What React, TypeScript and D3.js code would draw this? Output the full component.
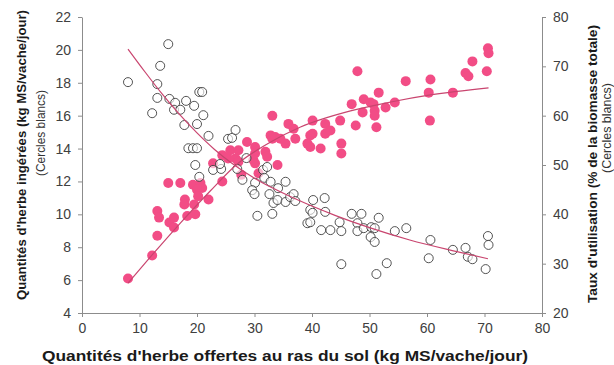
import React, { useRef, useEffect } from "react";
import * as d3 from "d3";

// cercles blancs : axe de droite (taux d'utilisation, %)
const hollowX = [8.0, 15.0, 13.6, 13.1, 13.1, 15.2, 16.2, 12.2, 16.0, 17.1,
  18.1, 19.5, 20.4, 20.9, 21.1, 17.8, 20.0, 22.0, 25.4, 26.1,
  26.7, 18.5, 19.3, 20.0, 19.7, 20.4, 22.8, 24.2, 24.0, 27.0,
  28.6, 27.9, 30.1, 29.6, 30.0, 31.5, 32.2, 31.7, 30.5, 32.8,
  34.1, 35.4, 32.6, 33.3, 34.0, 35.4, 36.2, 36.8, 37.1, 33.1,
  40.2, 42.2, 39.7, 40.1, 42.3, 39.2, 39.7, 41.6, 43.2, 44.8,
  45.1, 46.9, 48.6, 47.9, 47.9, 49.0, 50.3, 50.9, 51.6, 50.2,
  50.9, 54.4, 56.4, 45.1, 53.0, 51.2, 60.6, 60.3, 64.5, 66.7,
  67.1, 67.9, 70.6, 70.7, 70.2];
const hollowY = [66.8, 74.5, 70.1, 66.4, 63.6, 63.4, 62.6, 60.5, 61.2, 61.2,
  63.0, 62.0, 64.8, 64.8, 60.1, 58.1, 58.3, 55.9, 55.3, 55.5,
  57.1, 53.4, 53.4, 53.4, 50.0, 47.6, 49.0, 49.2, 50.2, 49.2,
  51.4, 47.0, 46.4, 44.9, 44.1, 49.0, 49.6, 47.4, 39.7, 46.6,
  45.3, 46.6, 44.1, 42.3, 42.9, 42.5, 43.5, 44.1, 42.7, 40.1,
  42.9, 43.3, 40.9, 40.3, 40.5, 38.2, 38.4, 36.8, 36.8, 38.4,
  36.6, 40.1, 40.1, 38.2, 36.6, 37.2, 37.4, 37.2, 39.3, 35.4,
  34.4, 36.6, 37.2, 29.9, 30.1, 27.9, 34.8, 31.1, 32.8, 33.2,
  31.4, 30.9, 35.6, 33.8, 28.9];

// points roses : axe de gauche (kg MS/vache/jour)
const pinkX = [8.0, 12.2, 13.1, 13.1, 13.4, 15.0, 17.1, 15.2, 16.0, 16.0,
  17.9, 17.8, 18.3, 19.7, 19.5, 19.3, 20.6, 20.9, 20.0, 20.2,
  22.0, 24.4, 22.8, 24.4, 25.4, 25.8, 27.2, 26.7, 27.2, 28.7,
  30.1, 27.7, 30.1, 31.9, 32.2, 29.8, 30.1, 30.7, 34.0, 32.8,
  33.1, 33.6, 34.5, 35.4, 33.1, 35.9, 36.8, 37.1, 40.1, 42.3,
  44.9, 47.6, 46.9, 40.1, 39.7, 42.3, 43.2, 39.2, 39.7, 41.5,
  45.1, 45.1, 56.3, 51.6, 49.0, 50.2, 50.7, 54.4, 52.8, 48.8,
  50.9, 50.9, 51.2, 70.6, 70.7, 67.9, 66.7, 67.2, 70.4, 60.6,
  60.3, 64.5, 60.5, 47.9];
const pinkY = [6.1, 7.5, 8.7, 10.2, 9.8, 11.9, 11.9, 9.5, 9.8, 9.2,
  10.9, 10.6, 9.9, 10.0, 10.6, 11.8, 11.9, 11.6, 11.5, 11.1,
  10.9, 12.0, 13.1, 13.6, 13.4, 13.9, 13.9, 13.4, 13.2, 14.4,
  14.1, 12.4, 13.7, 13.8, 13.5, 13.3, 13.1, 12.5, 13.0, 14.8,
  14.6, 14.7, 14.6, 14.3, 16.0, 15.5, 15.2, 14.6, 15.7, 15.5,
  15.7, 15.4, 16.7, 14.9, 14.8, 14.9, 15.1, 14.3, 14.1, 14.0,
  14.3, 13.7, 18.1, 17.4, 17.0, 16.8, 16.7, 16.8, 16.5, 16.2,
  16.3, 16.0, 15.3, 20.1, 19.8, 19.3, 18.6, 18.4, 18.7, 18.2,
  17.4, 17.4, 15.7, 18.7];

// courbes d'ajustement
const pinkFitX = [8.0, 12.2, 17.1, 22.3, 27.0, 31.9, 38.0, 46.7, 53.7, 60.6, 70.7];
const pinkFitY = [5.82, 7.53, 9.47, 11.42, 13.06, 14.22, 15.31, 16.29, 16.83, 17.26, 17.69];
const hollowFitX = [8, 11, 14, 17, 20, 23, 26, 30, 37, 44, 50, 57, 65, 70.6];
const hollowFitY = [73.5, 68.8, 64.3, 60.2, 56.5, 53.2, 50.4, 47.3, 43.2, 39.8, 37.3, 34.8, 32.5, 31.0];

const xTicks = [0, 10, 20, 30, 40, 50, 60, 70, 80];
const leftTicks = [4, 6, 8, 10, 12, 14, 16, 18, 20, 22];
const rightTicks = [20, 30, 40, 50, 60, 70, 80];

const PINK = "#f24d86";
const FIT = "#c9456f";
const FONT = "'Liberation Sans', Arial, sans-serif";

const App = () => {
  const ref = useRef<SVGSVGElement | null>(null);

  useEffect(() => {
    if (!ref.current) return;
    const svg = d3.select(ref.current);
    svg.selectAll("*").remove();

    const left = 82, right = 542, top = 17, bottom = 313;
    const x = d3.scaleLinear().domain([0, 80]).range([left, right]);
    const yL = d3.scaleLinear().domain([4, 22]).range([bottom, top]);
    const yR = d3.scaleLinear().domain([20, 80]).range([bottom, top]);

    const styleAxis = (g: any) => {
      g.select(".domain").attr("stroke", "#8c8c8c");
      g.selectAll(".tick line").attr("stroke", "#8c8c8c");
      g.selectAll(".tick text")
        .attr("fill", "#404040")
        .attr("font-family", FONT)
        .attr("font-size", 14);
    };

    svg.append("g")
      .attr("transform", `translate(0,${bottom})`)
      .call(d3.axisBottom(x).tickValues(xTicks).tickSize(4).tickSizeOuter(0).tickPadding(6))
      .call(styleAxis);

    svg.append("g")
      .attr("transform", `translate(${left},0)`)
      .call(d3.axisLeft(yL).tickValues(leftTicks).tickSize(4).tickSizeOuter(0).tickPadding(7))
      .call(styleAxis);

    svg.append("g")
      .attr("transform", `translate(${right},0)`)
      .call(d3.axisRight(yR).tickValues(rightTicks).tickSize(4).tickSizeOuter(0).tickPadding(7))
      .call(styleAxis);

    // points roses
    svg.append("g")
      .selectAll("circle")
      .data(pinkX)
      .join("circle")
      .attr("cx", (d) => x(d))
      .attr("cy", (_d, i) => yL(pinkY[i]))
      .attr("r", 5)
      .attr("fill", PINK);

    // cercles blancs
    svg.append("g")
      .selectAll("circle")
      .data(hollowX)
      .join("circle")
      .attr("cx", (d) => x(d))
      .attr("cy", (_d, i) => yR(hollowY[i]))
      .attr("r", 4.5)
      .attr("fill", "white")
      .attr("fill-opacity", 0.6)
      .attr("stroke", "#404040")
      .attr("stroke-width", 0.9);

    const pinkLine = d3.line<number>()
      .x((d) => x(d))
      .y((_d, i) => yL(pinkFitY[i]))
      .curve(d3.curveMonotoneX);

    const hollowLine = d3.line<number>()
      .x((d) => x(d))
      .y((_d, i) => yR(hollowFitY[i]))
      .curve(d3.curveMonotoneX);

    svg.append("path")
      .datum(pinkFitX)
      .attr("d", pinkLine)
      .attr("fill", "none")
      .attr("stroke", FIT)
      .attr("stroke-width", 1.2);

    svg.append("path")
      .datum(hollowFitX)
      .attr("d", hollowLine)
      .attr("fill", "none")
      .attr("stroke", FIT)
      .attr("stroke-width", 1.2);

    // titres
    const title = (tx: number, ty: number, text: string, bold: boolean, size: number, rot: boolean, len?: number) => {
      const t = svg.append("text")
        .attr("transform", rot ? `translate(${tx},${ty}) rotate(-90)` : `translate(${tx},${ty})`)
        .attr("text-anchor", "middle")
        .attr("dy", "0.35em")
        .attr("font-family", FONT)
        .attr("font-weight", bold ? "bold" : "normal")
        .attr("font-size", size)
        .attr("fill", bold ? "#1a1a1a" : "#333")
        .text(text);
      if (len) t.attr("textLength", len).attr("lengthAdjust", "spacingAndGlyphs");
    };

    title(21, 155, "Quantités d'herbe ingérées (kg MS/vache/jour)", true, 13, true, 290);
    title(41, 133, "(Cercles blancs)", false, 12.5, true, 86);
    title(592, 164, "Taux d'utilisation (% de la biomasse totale)", true, 13, true, 278);
    title(607, 128, "(Cercles blancs)", false, 12.5, true, 90);
    title(285, 356, "Quantités d'herbe offertes au ras du sol (kg MS/vache/jour)", true, 14.5, false, 486);
  }, []);

  return (
    <svg
      ref={ref}
      width={614}
      height={365}
      style={{ position: "absolute", left: 0, top: 0, background: "white" }}
    />
  );
};

export default App;
